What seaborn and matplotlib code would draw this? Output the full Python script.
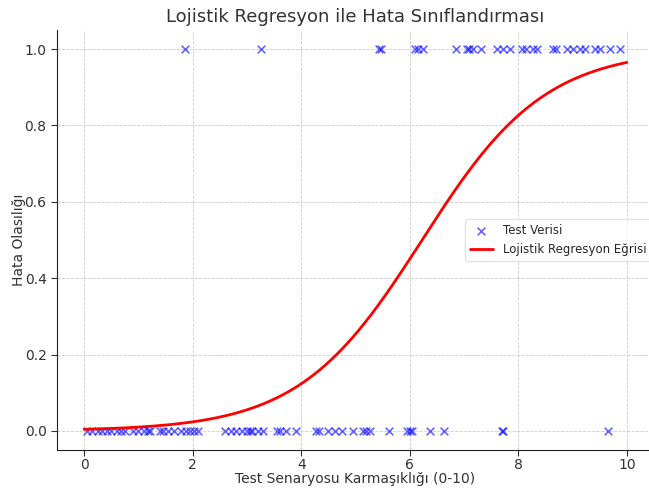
import numpy as np
import pandas as pd
import matplotlib
matplotlib.use("Agg")
import matplotlib.pyplot as plt
import seaborn as sns

# test points (x = complexity, y = error 0/1)
x_fail = [1.86, 3.25, 5.43, 5.47, 6.10, 6.15, 6.24, 6.85, 7.05, 7.10, 7.17, 7.31,
          7.60, 7.72, 7.85, 8.06, 8.15, 8.27, 8.34, 8.64, 8.70, 8.89, 9.01, 9.13,
          9.23, 9.41, 9.50, 9.69, 9.87]
x_pass = [0.05, 0.15, 0.25, 0.33, 0.42, 0.5, 0.6, 0.68, 0.75, 0.9, 1.0, 1.1, 1.18,
          1.22, 1.4, 1.45, 1.55, 1.65, 1.78, 1.88, 1.95, 2.02, 2.1, 2.6, 2.7, 2.8,
          2.9, 3.0, 3.05, 3.1, 3.2, 3.3, 3.55, 3.6, 3.72, 3.9, 4.28, 4.33, 4.5,
          4.62, 4.75, 4.95, 5.14, 5.2, 5.27, 5.62, 5.95, 6.0, 6.04, 6.37, 6.63,
          7.70, 7.72, 9.65]

# fitted logistic curve parameters
coef = 0.88
intercept = -5.48

df = pd.DataFrame({
    "x": x_fail + x_pass,
    "y": [1] * len(x_fail) + [0] * len(x_pass),
})
xs = np.linspace(0, 10, 300)
curve = pd.DataFrame({"x": xs, "p": 1 / (1 + np.exp(-(coef * xs + intercept)))})

sns.set_style("white")
plt.rcParams["font.family"] = ["DejaVu Sans"]

fig = plt.figure(figsize=(6.49, 4.9), dpi=100)
ax = fig.add_axes([57 / 649, 40 / 490, 597 / 649, 420 / 490])

sns.scatterplot(data=df, x="x", y="y", marker="x", color="blue", alpha=0.6,
                s=30, linewidth=1.2, label="Test Verisi", ax=ax)
sns.lineplot(data=curve, x="x", y="p", color="red", linewidth=2,
             label="Lojistik Regresyon Eğrisi", ax=ax)

ax.set_xlim(-0.5, 10.5)
ax.set_ylim(-0.05, 1.05)
ax.set_xticks([0, 2, 4, 6, 8, 10])
ax.set_yticks([0, 0.2, 0.4, 0.6, 0.8, 1.0])
ax.grid(True, linestyle="--", color="#cccccc", linewidth=0.6)
for s in ["top", "right"]:
    ax.spines[s].set_visible(False)
for s in ["left", "bottom"]:
    ax.spines[s].set_color("#222222")
ax.tick_params(axis="both", labelsize=10, colors="#333333", length=4, left=True, bottom=True)
ax.tick_params(axis="x", pad=2)

ax.set_title("Lojistik Regresyon ile Hata Sınıflandırması", fontsize=13, color="#333333")
ax.set_xlabel("Test Senaryosu Karmaşıklığı (0-10)", fontsize=10, color="#333333", labelpad=0)
ax.set_ylabel("Hata Olasılığı", fontsize=10, color="#333333", labelpad=-1)
leg = ax.legend(loc="center right", fontsize=8.5, frameon=True,
                bbox_to_anchor=(1.005, 0.5))
leg.get_frame().set_edgecolor("#dddddd")

fig.savefig("out.png", dpi=100)
